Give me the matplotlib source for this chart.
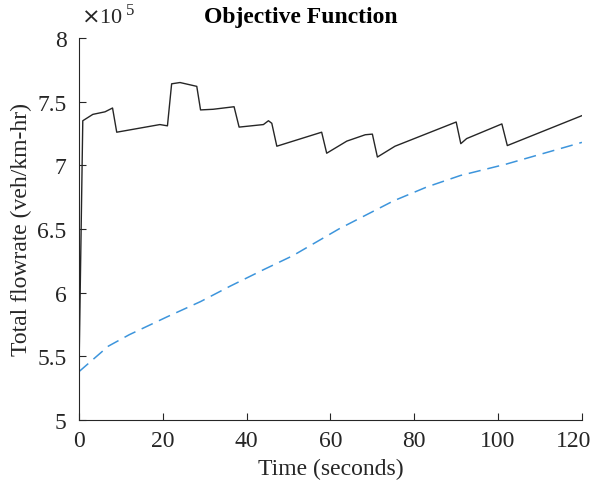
import numpy as np
import matplotlib.pyplot as plt
from matplotlib.ticker import FuncFormatter
from matplotlib.transforms import ScaledTranslation

# optimised flowrate (solid black)
t_opt = [0, 0.9, 3.3, 6.2, 8.0, 9.0, 19.3, 21.1, 22.1, 24.1, 28.1, 29.0, 32, 37,
         38.2, 44, 45.2, 46, 47.2, 57.9, 59.1, 63.9, 68.3, 70, 71.2, 75.4, 90,
         91.1, 92.5, 100.9, 102.2, 120]
q_opt = [5.40, 7.35, 7.40, 7.42, 7.45, 7.26, 7.32, 7.31, 7.64, 7.65, 7.62, 7.435,
         7.44, 7.46, 7.30, 7.32, 7.35, 7.33, 7.15, 7.26, 7.095, 7.19, 7.24, 7.245,
         7.065, 7.15, 7.34, 7.17, 7.21, 7.325, 7.155, 7.39]

# baseline flowrate (dashed blue)
t_base = [0, 7, 12, 21, 29, 36, 44, 51, 62, 75, 83, 91, 102, 120]
q_base = [5.38, 5.58, 5.67, 5.81, 5.93, 6.05, 6.18, 6.29, 6.50, 6.72, 6.83, 6.92,
          7.01, 7.18]

q_opt = np.array(q_opt) * 1e5
q_base = np.array(q_base) * 1e5

plt.rcParams['font.family'] = ['Liberation Serif', 'DejaVu Serif']

fig = plt.figure(figsize=(5.95, 4.81), dpi=100)
ax = fig.add_axes([0.1328, 0.1247, 0.8452, 0.7943])

ax.plot(t_opt, q_opt, color='#262626', lw=1.0)
ax.plot(t_base, q_base, color='#3d95dc', lw=1.1, dashes=(8, 4.5))

ax.set_xlim(0, 120)
ax.set_ylim(5e5, 8e5)
ax.set_xticks(np.arange(0, 121, 20))
ax.set_yticks(np.arange(5e5, 8.01e5, 0.5e5))
ax.yaxis.set_major_formatter(FuncFormatter(lambda v, p: f'{v/1e5:g}'))

for s in ['top', 'right']:
    ax.spines[s].set_visible(False)
for s in ['left', 'bottom']:
    ax.spines[s].set_color('#262626')
    ax.spines[s].set_linewidth(0.8)
ax.tick_params(direction='in', length=5, width=0.8, colors='#262626',
               labelsize=17, labelcolor='#262626')
ax.tick_params(axis='x', pad=7)
ax.tick_params(axis='y', pad=9)

# last x label sits against the figure edge, nudge it in a little
last = ax.get_xticklabels()[-1]
last.set_transform(last.get_transform() + ScaledTranslation(-0.08, 0, fig.dpi_scale_trans))

ax.set_xlabel('Time (seconds)', fontsize=17, color='#262626', labelpad=5)
ax.set_ylabel('Total flowrate (veh/km-hr)', fontsize=17, color='#262626', labelpad=4)

fig.text(301/595, 1 - 18/481, 'Objective Function', ha='center', va='center',
         fontsize=17, fontweight='bold')
fig.text(81/595, 1 - 23/481, r'$\times$10', ha='left', va='baseline', fontsize=16,
         color='#262626')
fig.text(126/595, 1 - 15/481, '5', ha='left', va='baseline', fontsize=12,
         color='#262626')

fig.savefig('out.png', dpi=100)
